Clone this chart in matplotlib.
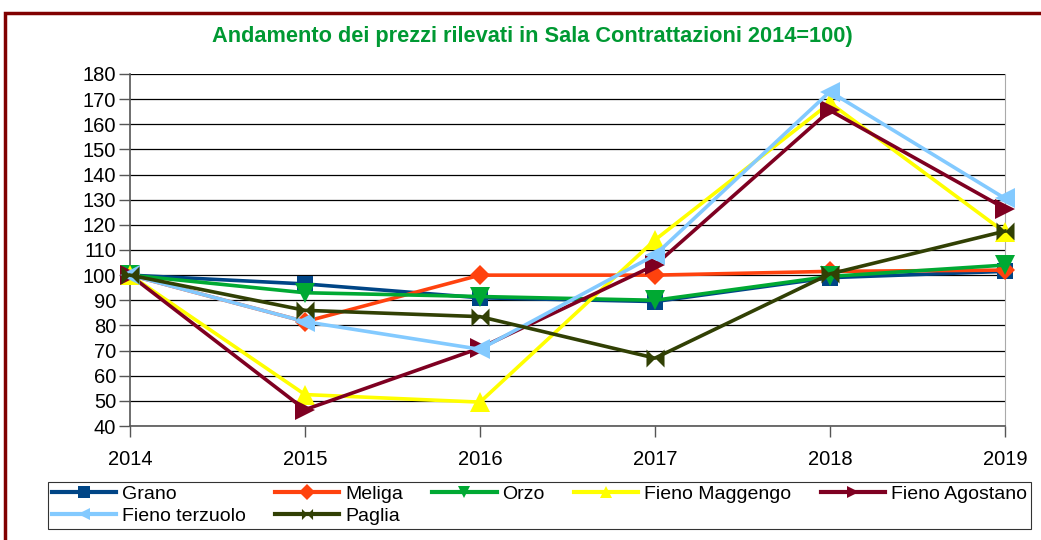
import matplotlib.pyplot as plt
import matplotlib.patches as patches
from matplotlib.path import Path

plt.rcParams['font.family'] = ['Liberation Sans', 'DejaVu Sans']

anni = [2014, 2015, 2016, 2017, 2018, 2019]

grano = [100, 96.5, 91, 89.5, 99, 101.5]
meliga = [100, 81.5, 100, 100, 101.5, 102]
orzo = [100, 93, 91.5, 90, 99.5, 104]
fieno_maggengo = [100, 52.5, 49.5, 114, 168.5, 117]
fieno_agostano = [100, 46.5, 71, 104, 165.5, 126.5]
fieno_terzuolo = [100, 81.5, 70.5, 108, 173, 130.5]
paglia = [100, 86, 83.5, 67, 100.5, 117.5]

# bowtie marker for Paglia
bowtie = Path([(-1, -1), (1, 1), (1, -1), (-1, 1), (-1, -1)],
              [Path.MOVETO, Path.LINETO, Path.LINETO, Path.LINETO, Path.CLOSEPOLY])

serie = [
    ('Grano', grano, '#004586', 's', 11.5),
    ('Meliga', meliga, '#ff420e', 'D', 10),
    ('Orzo', orzo, '#00a933', 'v', 14),
    ('Fieno Maggengo', fieno_maggengo, '#ffff00', '^', 14),
    ('Fieno Agostano', fieno_agostano, '#7e0021', '>', 14),
    ('Fieno terzuolo', fieno_terzuolo, '#83caff', '<', 14),
    ('Paglia', paglia, '#314004', bowtie, 13),
]

fig = plt.figure(figsize=(10.41, 5.4), dpi=100)
ax = fig.add_axes([0.1249, 0.2111, 0.8405, 0.6519])

handles = {}
for nome, vals, col, mk, ms in serie:
    h, = ax.plot(anni, vals, color=col, lw=2.6, marker=mk, markersize=ms,
                 markeredgewidth=0, label=nome, clip_on=False, zorder=3)
    handles[nome] = h

ax.set_xlim(2014, 2019)
ax.set_ylim(40, 180)
ax.set_yticks(range(40, 181, 10))
ax.set_xticks(anni)
ax.grid(axis='y', color='black', lw=0.9)
ax.set_axisbelow(True)
ax.tick_params(axis='both', labelsize=14.5, direction='out', length=8, color='#555555', width=1)
ax.tick_params(axis='y', pad=2)
ax.tick_params(axis='x', pad=9)
for s in ['left', 'bottom']:
    ax.spines[s].set_color('#555555')
    ax.spines[s].set_linewidth(1.2)
ax.spines['right'].set_color('#aaaaaa')
ax.spines['top'].set_visible(False)

fig.text(0.511, 0.932, 'Andamento dei prezzi rilevati in Sala Contrattazioni 2014=100)',
         color='#009933', fontsize=15.7, fontweight='bold', ha='center', va='center')

ordine = ['Grano', 'Fieno terzuolo', 'Meliga', 'Paglia', 'Orzo', 'Fieno Maggengo', 'Fieno Agostano']
leg_handles = []
for nome in ordine:
    h = handles[nome]
    lh = plt.Line2D([], [], color=h.get_color(), lw=3, marker=h.get_marker(),
                    markersize=8, markeredgewidth=0)
    leg_handles.append(lh)
leg = fig.legend(leg_handles, ordine, ncol=5, loc='upper left', mode='expand',
                 bbox_to_anchor=(0.046, 0.108, 0.944, 0.0), fontsize=14, frameon=True,
                 fancybox=False, edgecolor='black', handlelength=3.3,
                 handletextpad=0.3, columnspacing=1.0, labelspacing=0.2,
                 borderpad=0.2, borderaxespad=0)
leg.get_frame().set_linewidth(0.8)

# dark red outer frame
frame = patches.Rectangle((0.005, -0.1), 1.2, 1.1 - 13.5 / 540,
                          transform=fig.transFigure, fill=False,
                          edgecolor='#800000', lw=2.5)
fig.patches.append(frame)

fig.savefig('out.png', dpi=100)
